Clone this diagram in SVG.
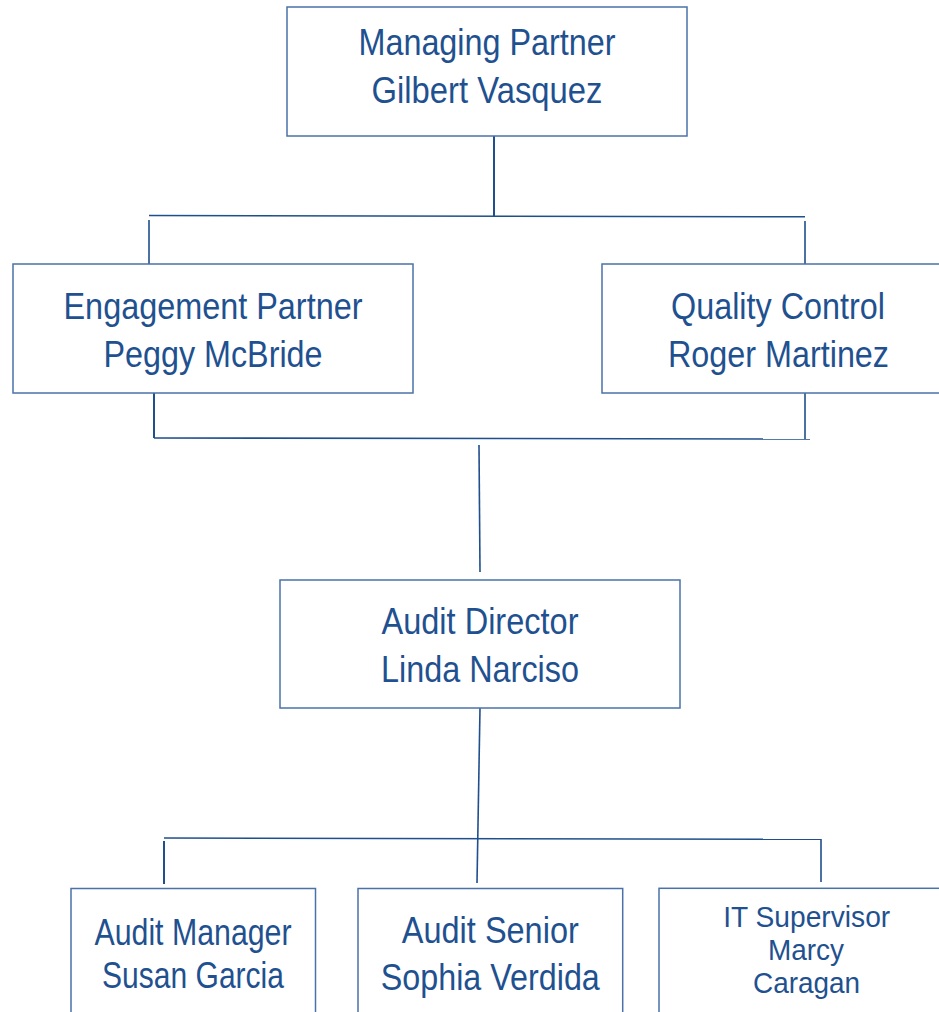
<svg xmlns="http://www.w3.org/2000/svg" width="939" height="1012" viewBox="0 0 939 1012">
<style>
.box{fill:#ffffff;stroke:#4a72a8;stroke-width:1.5}
.t{font-family:"Liberation Sans",Arial,sans-serif;font-size:36px;fill:#1f5190;text-anchor:middle}
.s{font-size:30px}
.c{stroke:#1f4f8d;stroke-width:2;fill:none}
.c2{stroke:#1f4f8d;stroke-width:1.6;fill:none}
</style>
<rect width="939" height="1012" fill="#ffffff"/>
<g id="connectors">
<line class="c" x1="494" y1="136" x2="494" y2="216"/>
<line class="c2" x1="149" y1="215.5" x2="805" y2="216.8"/>
<line class="c2" x1="149" y1="220" x2="149" y2="264"/>
<line class="c2" x1="805" y1="221" x2="805" y2="264"/>
<line class="c" x1="154" y1="393" x2="154" y2="438"/>
<line class="c2" x1="154" y1="438" x2="810" y2="439"/>
<line class="c2" x1="805" y1="393" x2="805" y2="439"/>
<line class="c2" x1="479" y1="445" x2="480" y2="572"/>
<line class="c2" x1="480" y1="708" x2="477" y2="883"/>
<line class="c2" x1="164" y1="838" x2="821" y2="839.3"/>
<line class="c" x1="164" y1="841" x2="164" y2="884"/>
<line class="c2" x1="821" y1="839" x2="821" y2="882"/>
</g>
<g id="managing-partner">
<rect class="box" x="287" y="7" width="400" height="129"/>
<text class="t" x="487" y="55" textLength="257" lengthAdjust="spacingAndGlyphs">Managing Partner</text>
<text class="t" x="487" y="103" textLength="231" lengthAdjust="spacingAndGlyphs">Gilbert Vasquez</text>
</g>
<g id="engagement-partner">
<rect class="box" x="13" y="264" width="400" height="129"/>
<text class="t" x="213" y="319" textLength="299" lengthAdjust="spacingAndGlyphs">Engagement Partner</text>
<text class="t" x="213" y="366.5" textLength="219" lengthAdjust="spacingAndGlyphs">Peggy McBride</text>
</g>
<g id="quality-control">
<rect class="box" x="602" y="264" width="352" height="129"/>
<text class="t" x="778" y="319" textLength="214" lengthAdjust="spacingAndGlyphs">Quality Control</text>
<text class="t" x="778.5" y="366.5" textLength="221" lengthAdjust="spacingAndGlyphs">Roger Martinez</text>
</g>
<g id="audit-director">
<rect class="box" x="280" y="580" width="400" height="128"/>
<text class="t" x="480" y="634.3" textLength="197" lengthAdjust="spacingAndGlyphs">Audit Director</text>
<text class="t" x="480" y="682.3" textLength="198" lengthAdjust="spacingAndGlyphs">Linda Narciso</text>
</g>
<g id="audit-manager">
<rect class="box" x="71" y="888.5" width="244.5" height="140"/>
<text class="t" x="193" y="945" textLength="197" lengthAdjust="spacingAndGlyphs">Audit Manager</text>
<text class="t" x="193" y="988.3" textLength="182" lengthAdjust="spacingAndGlyphs">Susan Garcia</text>
</g>
<g id="audit-senior">
<rect class="box" x="358" y="888.5" width="264.7" height="140"/>
<text class="t" x="490.3" y="942.7" textLength="177" lengthAdjust="spacingAndGlyphs">Audit Senior</text>
<text class="t" x="490.3" y="990" textLength="219" lengthAdjust="spacingAndGlyphs">Sophia Verdida</text>
</g>
<g id="it-supervisor">
<rect class="box" x="659" y="888.3" width="295" height="140"/>
<text class="t s" x="806.7" y="926.7" textLength="167" lengthAdjust="spacingAndGlyphs">IT Supervisor</text>
<text class="t s" x="806" y="960" textLength="76" lengthAdjust="spacingAndGlyphs">Marcy</text>
<text class="t s" x="806.5" y="993.3" textLength="107" lengthAdjust="spacingAndGlyphs">Caragan</text>
</g>
</svg>
